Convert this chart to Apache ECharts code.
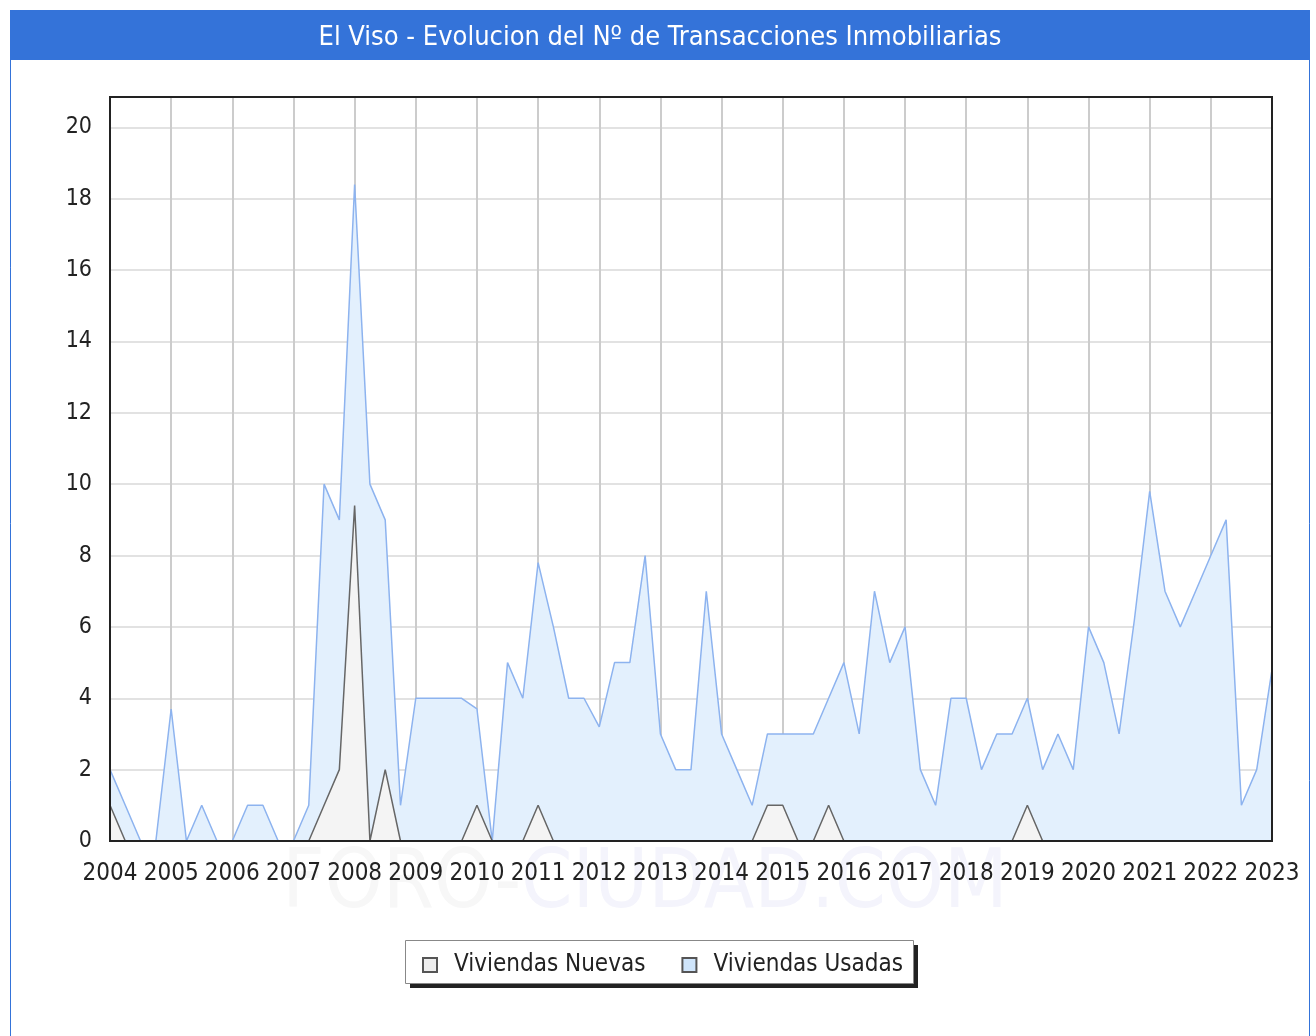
<!DOCTYPE html>
<html>
<head>
<meta charset="utf-8">
<script src="https://cdn.jsdelivr.net/npm/echarts@6/dist/echarts.min.js"></script>
<style>
  html, body { margin: 0; padding: 0; background: #fff; }
  #chart { width: 1316px; height: 1036px; }
</style>
</head>
<body>
<div id="chart"></div>
<script>
// trimestres 2004 T1 .. 2023 T1
const years = [2004, 2005, 2006, 2007, 2008, 2009, 2010, 2011, 2012, 2013,
  2014, 2015, 2016, 2017, 2018, 2019, 2020, 2021, 2022, 2023];
const quarters = [];
years.forEach(function (y) {
  for (let q = 1; q <= 4; q++) {
    if (y === 2023 && q > 1) break;
    quarters.push(y + "-T" + q);
  }
});

const usadas = [
  2, 1, 0, 0, 3.7, 0, 1, 0,
  0, 1, 1, 0, 0, 1, 10, 9,
  18.4, 10, 9, 1, 4, 4, 4, 4,
  3.7, 0, 5, 4, 7.8, 6, 4, 4,
  3.2, 5, 5, 8, 3, 2, 2, 7,
  3, 2, 1, 3, 3, 3, 3, 4,
  5, 3, 7, 5, 6, 2, 1, 4,
  4, 2, 3, 3, 4, 2, 3, 2,
  6, 5, 3, 6.2, 9.8, 7, 6, 7,
  8, 9, 1, 2, 4.8
];
const nuevas = [
  1, 0, 0, 0, 0, 0, 0, 0,
  0, 0, 0, 0, 0, 0, 1, 2,
  9.4, 0, 2, 0, 0, 0, 0, 0,
  1, 0, 0, 0, 1, 0, 0, 0,
  0, 0, 0, 0, 0, 0, 0, 0,
  0, 0, 0, 1, 1, 0, 0, 1,
  0, 0, 0, 0, 0, 0, 0, 0,
  0, 0, 0, 0, 1, 0, 0, 0,
  0, 0, 0, 0, 0, 0, 0, 0,
  0, 0, 0, 0, 0
];

const FONT = "'DejaVu Sans Condensed', 'DejaVu Sans', sans-serif";
const BLUE = "#3473d9";

let myChart = echarts.init(document.getElementById("chart"));
let option = {
  animation: false,
  textStyle: { fontFamily: FONT },
  graphic: [
    // marco exterior
    {
      type: "rect",
      shape: { x: 10.5, y: 10.5, width: 1299, height: 1040 },
      style: { fill: "none", stroke: BLUE, lineWidth: 1 },
      silent: true
    },
    {
      type: "rect",
      shape: { x: 10, y: 10, width: 1300, height: 50 },
      style: { fill: BLUE },
      silent: true
    },
    {
      type: "text",
      x: 660,
      y: 38,
      style: {
        text: "El Viso - Evolucion del Nº de Transacciones Inmobiliarias",
        font: "27px " + FONT,
        fill: "#ffffff",
        textAlign: "center",
        textVerticalAlign: "middle"
      },
      silent: true
    },
    // marca de agua
    {
      type: "text",
      x: 645,
      y: 886,
      z: -1,
      style: {
        text: "{a|FORO-}{b|CIUDAD.COM}",
        textAlign: "center",
        textVerticalAlign: "middle",
        rich: {
          a: { font: "82px " + FONT, fill: "#f7f7f7" },
          b: { font: "82px " + FONT, fill: "#f4f4fc" }
        }
      },
      silent: true
    },
    // borde del area de trazado
    {
      type: "rect",
      shape: { x: 110, y: 97, width: 1162, height: 744 },
      style: { fill: "none", stroke: "#222", lineWidth: 2 },
      z: 50,
      silent: true
    },
    // sombra de la leyenda
    {
      type: "rect",
      shape: { x: 410, y: 945, width: 508, height: 43 },
      style: { fill: "#222" },
      silent: true
    },
    {
      type: "rect",
      shape: { x: 405.5, y: 940.5, width: 508, height: 43 },
      style: { fill: "#fff", stroke: "#888", lineWidth: 1 },
      silent: true
    }
  ],
  legend: {
    data: ["Viviendas Nuevas", "Viviendas Usadas"],
    left: 417,
    top: 948,
    itemWidth: 14,
    itemHeight: 14,
    itemGap: 36,
    icon: "rect",
    textStyle: { fontSize: 24, color: "#222", fontFamily: FONT, padding: [0, 0, 0, 12] },
    z: 10
  },
  grid: {
    left: 110,
    right: 44,
    top: 97,
    bottom: 195
  },
  xAxis: {
    type: "category",
    data: quarters,
    boundaryGap: false,
    axisLine: { show: false },
    axisTick: { show: false },
    axisLabel: {
      interval: 3,
      margin: 21,
      fontSize: 24,
      color: "#222",
      fontFamily: FONT,
      formatter: function (v) { return v.split("-")[0]; }
    },
    splitLine: {
      show: true,
      interval: 3,
      lineStyle: { color: "#cccccc", width: 2 }
    }
  },
  yAxis: {
    type: "value",
    min: 0,
    max: 20.85,
    interval: 2,
    axisLine: { show: false },
    axisTick: { show: false },
    axisLabel: {
      margin: 18,
      fontSize: 23,
      color: "#222",
      fontFamily: FONT,
      showMaxLabel: false
    },
    splitLine: { lineStyle: { color: "#e2e2e2", width: 2 } }
  },
  series: [
    {
      name: "Viviendas Usadas",
      type: "line",
      data: usadas,
      symbol: "none",
      itemStyle: { color: "#cfe5fb", borderColor: "#555", borderWidth: 1 },
      lineStyle: { color: "#8db3ef", width: 1.5 },
      areaStyle: { color: "#e3f0fd", opacity: 1 },
      z: 2
    },
    {
      name: "Viviendas Nuevas",
      type: "line",
      data: nuevas,
      symbol: "none",
      itemStyle: { color: "#eeeeee", borderColor: "#555", borderWidth: 1 },
      lineStyle: { color: "#666", width: 1.5 },
      areaStyle: { color: "#f4f4f4", opacity: 1 },
      z: 3
    }
  ]
};

myChart.setOption(option);
</script>
</body>
</html>
